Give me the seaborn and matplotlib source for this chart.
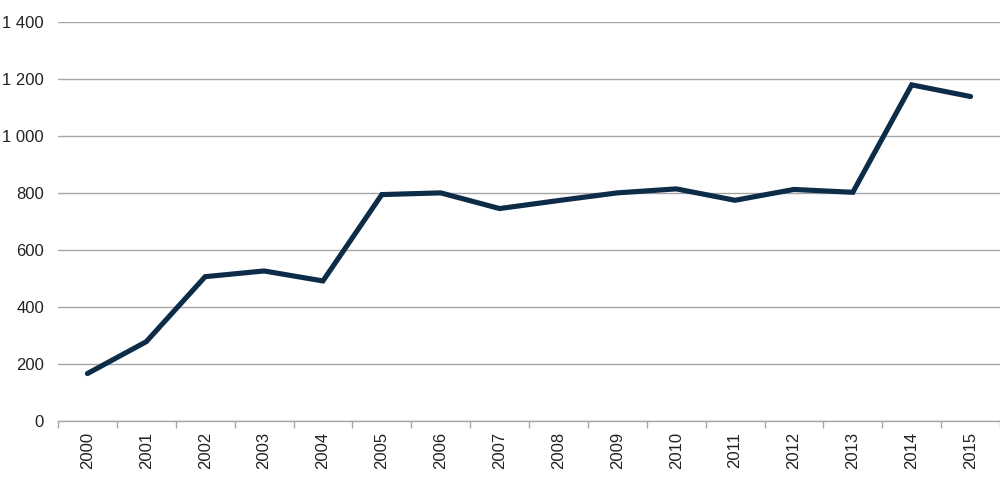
import numpy as np
import pandas as pd
import matplotlib
matplotlib.use("Agg")
import matplotlib.pyplot as plt
import seaborn as sns
from matplotlib.ticker import FuncFormatter, FixedLocator

# data
years = ["2000", "2001", "2002", "2003", "2004", "2005", "2006", "2007",
         "2008", "2009", "2010", "2011", "2012", "2013", "2014", "2015"]
values = [166, 278, 506, 526, 491, 794, 800, 745,
          773, 800, 814, 774, 812, 802, 1179, 1138]
y_ticks = [0, 200, 400, 600, 800, 1000, 1200, 1400]

df = pd.DataFrame({"pos": np.arange(len(years)), "value": values})

sns.set_theme(style="white")
plt.rcParams["font.family"] = ["Liberation Sans", "DejaVu Sans"]

fig = plt.figure(figsize=(10, 4.86), dpi=100)
ax = fig.add_axes([0.058, 0.134, 0.942, 0.821])

sns.lineplot(data=df, x="pos", y="value", color="#0c2c48", linewidth=3.7,
             ax=ax, solid_capstyle="round", solid_joinstyle="miter")

ax.set_xlim(-0.5, len(years) - 0.5)
ax.set_ylim(0, 1400)
ax.set_yticks(y_ticks)
ax.yaxis.set_major_formatter(FuncFormatter(lambda v, p: f"{int(v):,}".replace(",", " ")))
ax.grid(axis="y", color="#a6a6a6", linewidth=1.0)
ax.set_axisbelow(True)

ax.set_xticks(np.arange(len(years)))
ax.set_xticklabels(years, rotation=90)
ax.xaxis.set_minor_locator(FixedLocator(np.arange(-0.5, len(years), 1.0)))
ax.tick_params(axis="x", which="major", length=0, pad=8, labelsize=12, colors="#222222")
ax.tick_params(axis="x", which="minor", length=5, width=1, color="#a6a6a6", bottom=True)
ax.tick_params(axis="y", length=0, pad=10, labelsize=12, colors="#222222")

for s in ["top", "right", "left"]:
    ax.spines[s].set_visible(False)
ax.spines["bottom"].set_color("#a6a6a6")
ax.spines["bottom"].set_linewidth(1.0)

ax.set_xlabel("")
ax.set_ylabel("")

fig.savefig("out.png", dpi=100)
